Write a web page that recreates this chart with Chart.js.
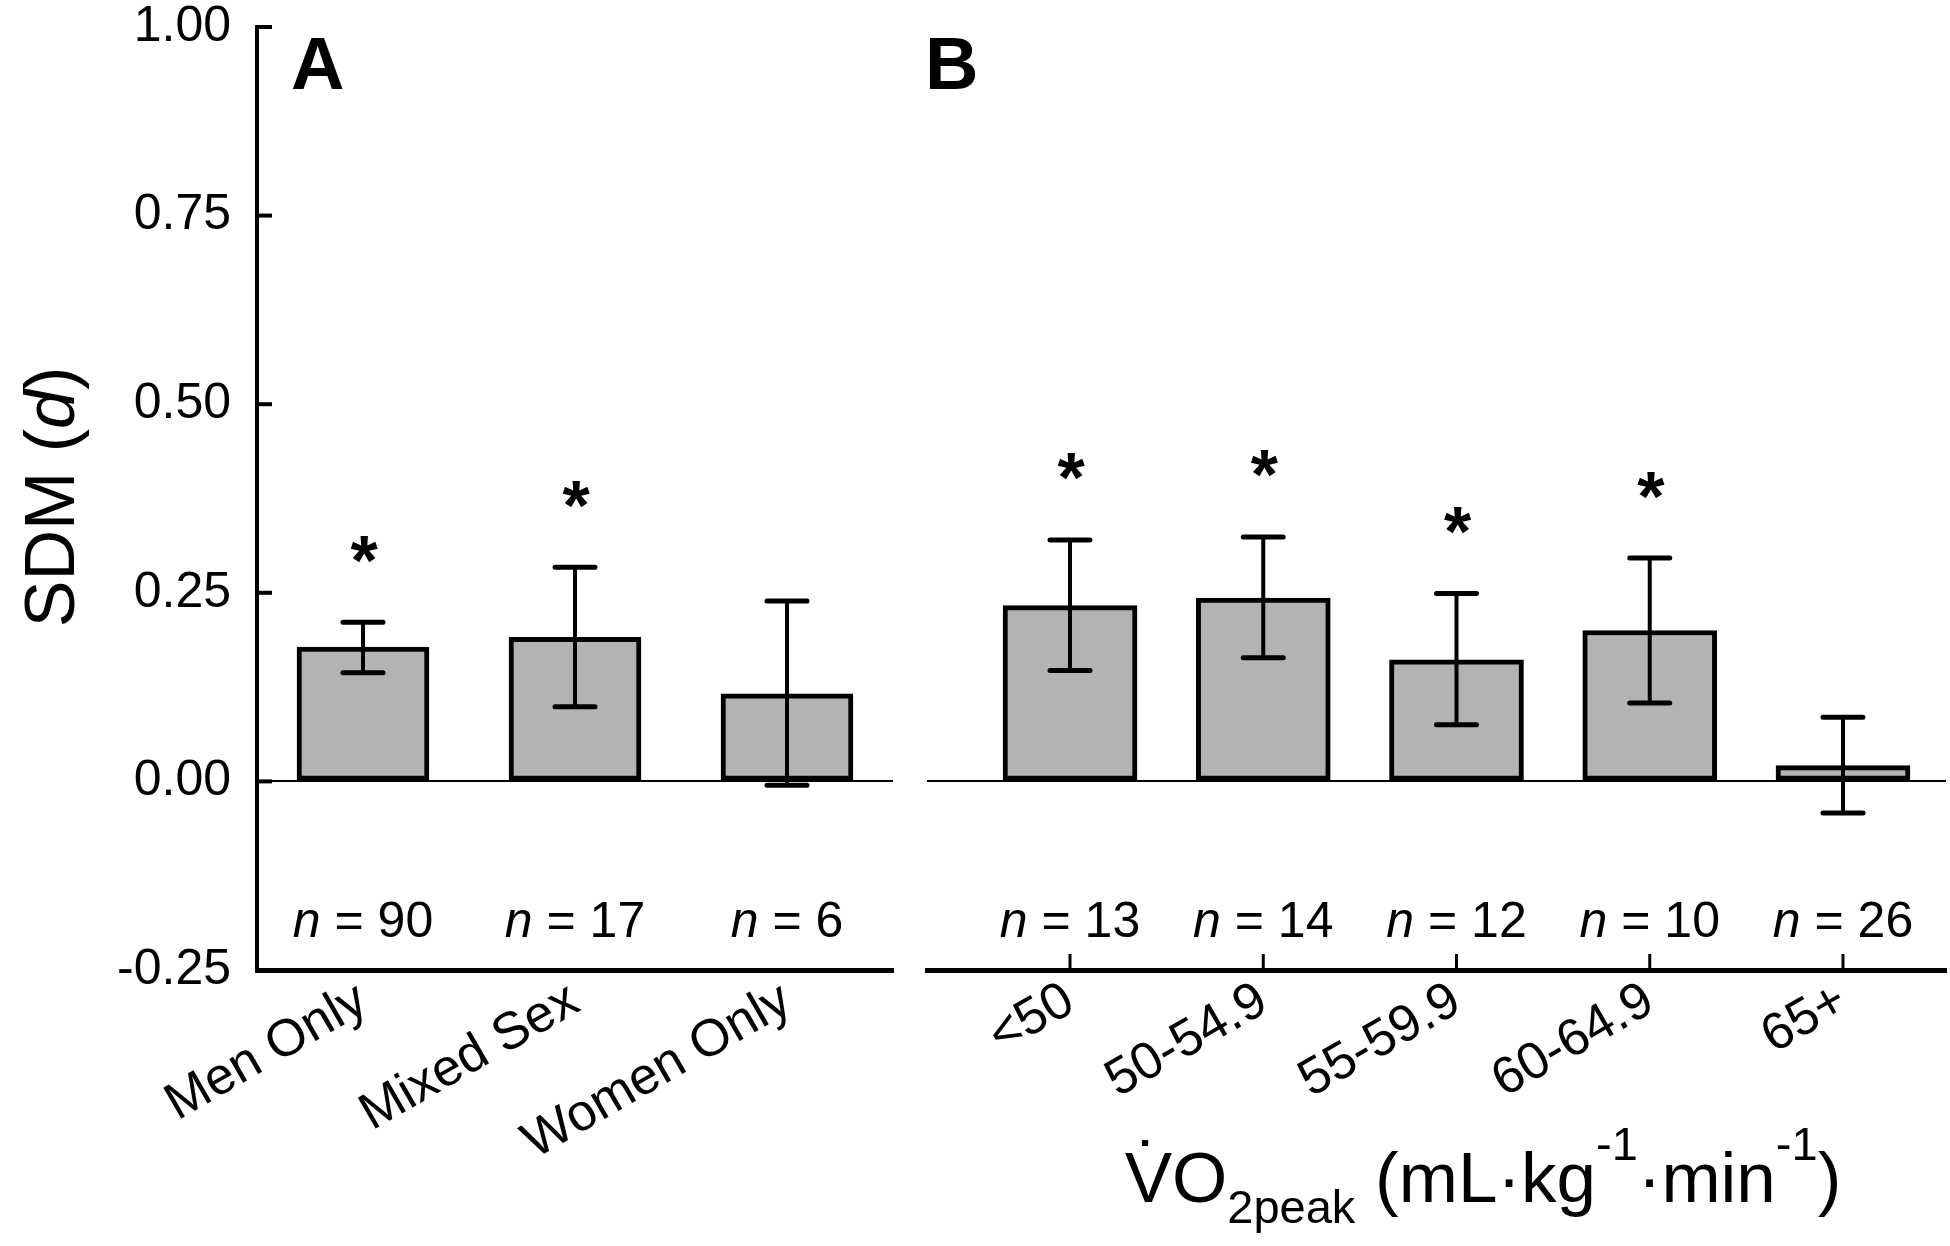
<!DOCTYPE html>
<html><head><meta charset="utf-8">
<script src="https://cdn.jsdelivr.net/npm/chart.js@4"></script>
<style>
html,body{margin:0;padding:0;background:#fff;}
#wrap{position:relative;width:1950px;height:1246px;overflow:hidden;}
#chartA{position:absolute;left:0;top:0;}
#chartB{position:absolute;left:900px;top:0;}
</style></head><body>
<div id="wrap">
<canvas id="chartA" width="910" height="1246"></canvas>
<canvas id="chartB" width="1050" height="1246"></canvas>
</div>
<script>
// ---------- data ----------
const yTicks = [-0.25, 0, 0.25, 0.5, 0.75, 1.0];

const catsA = ['Men Only', 'Mixed Sex', 'Women Only'];
const meanA = [0.178, 0.191, 0.116];
const lowA  = [0.144, 0.099, -0.005];
const highA = [0.211, 0.284, 0.239];
const nA    = [90, 17, 6];
const sigA  = [true, true, false];

const catsB = ['<50', '50-54.9', '55-59.9', '60-64.9', '65+'];
const meanB = [0.233, 0.243, 0.161, 0.200, 0.021];
const lowB  = [0.147, 0.164, 0.075, 0.104, -0.042];
const highB = [0.320, 0.324, 0.249, 0.296, 0.085];
const nB    = [13, 14, 12, 10, 26];
const sigB  = [true, true, true, true, false];

// ---------- styling ----------
const FONT = '"Liberation Sans", Arial, Helvetica, sans-serif';
Chart.defaults.font.family = FONT;
Chart.defaults.color = '#000';
const BAR_FILL = '#b3b3b3';

function overlay(low, high, n, sig) {
  return {
    id: 'overlay',
    afterDatasetsDraw(chart) {
      const ctx = chart.ctx, ys = chart.scales.y;
      const meta = chart.getDatasetMeta(0);
      const area = chart.chartArea;
      ctx.save();
      ctx.strokeStyle = '#000';
      ctx.fillStyle = '#000';
      meta.data.forEach((bar, i) => {
        const x = bar.x;
        const yl = ys.getPixelForValue(low[i]);
        const yh = ys.getPixelForValue(high[i]);
        ctx.lineCap = 'butt';
        ctx.lineWidth = 4;
        ctx.beginPath(); ctx.moveTo(x, yl); ctx.lineTo(x, yh); ctx.stroke();
        ctx.lineCap = 'round';
        ctx.lineWidth = 5;
        ctx.beginPath();
        ctx.moveTo(x - 20, yh); ctx.lineTo(x + 20, yh);
        ctx.moveTo(x - 20, yl); ctx.lineTo(x + 20, yl);
        ctx.stroke();
        if (sig[i]) {
          ctx.font = 'bold 70px ' + FONT;
          const m = ctx.measureText('*');
          const cy = yh - 73;
          const base = cy + (m.actualBoundingBoxAscent - m.actualBoundingBoxDescent) / 2;
          ctx.textAlign = 'center';
          ctx.textBaseline = 'alphabetic';
          ctx.fillText('*', x + 1, base);
        }
        // n label
        const fI = 'italic 50px ' + FONT, fN = '50px ' + FONT;
        const s1 = 'n', s2 = ' = ' + n[i];
        ctx.font = fI; const w1 = ctx.measureText(s1).width;
        ctx.font = fN; const w2 = ctx.measureText(s2).width;
        const x0 = x - (w1 + w2) / 2;
        const by = area.bottom - 33;
        ctx.textAlign = 'left';
        ctx.textBaseline = 'alphabetic';
        ctx.font = fI; ctx.fillText(s1, x0, by);
        ctx.font = fN; ctx.fillText(s2, x0 + w1, by);
      });
      ctx.restore();
    }
  };
}

function panelLabel(text, x) {
  return {
    id: 'panelLabel',
    afterDraw(chart) {
      const ctx = chart.ctx;
      ctx.save();
      ctx.font = 'bold 74px ' + FONT;
      ctx.fillStyle = '#000';
      ctx.textAlign = 'left';
      ctx.textBaseline = 'alphabetic';
      ctx.fillText(text, x, 89);
      ctx.restore();
    }
  };
}

const yAxisDecor = {
  id: 'yAxisDecor',
  afterDraw(chart) {
    const ctx = chart.ctx, ys = chart.scales.y, area = chart.chartArea;
    ctx.save();
    ctx.strokeStyle = '#000';
    ctx.lineWidth = 4;
    ys.ticks.forEach(t => {
      const y = ys.getPixelForValue(t.value);
      ctx.beginPath(); ctx.moveTo(area.left, y); ctx.lineTo(area.left + 15, y); ctx.stroke();
    });
    // y title
    ctx.translate(74, 497);
    ctx.rotate(-Math.PI / 2);
    const fN = '70px ' + FONT, fI = 'italic 70px ' + FONT;
    const parts = [['SDM (', fN], ['d', fI], [')', fN]];
    let total = 0;
    parts.forEach(p => { ctx.font = p[1]; p.push(ctx.measureText(p[0]).width); total += p[2]; });
    let cx = -total / 2;
    ctx.fillStyle = '#000';
    ctx.textAlign = 'left';
    ctx.textBaseline = 'alphabetic';
    parts.forEach(p => { ctx.font = p[1]; ctx.fillText(p[0], cx, 0); cx += p[2]; });
    ctx.restore();
  }
};

const xAxisDecorB = {
  id: 'xAxisDecorB',
  afterDraw(chart) {
    const ctx = chart.ctx, xs = chart.scales.x, area = chart.chartArea;
    ctx.save();
    ctx.strokeStyle = '#000';
    ctx.lineWidth = 3;
    xs.ticks.forEach(t => {
      const x = xs.getPixelForValue(t.value);
      ctx.beginPath(); ctx.moveTo(x, area.bottom); ctx.lineTo(x, area.bottom - 16); ctx.stroke();
    });
    // x title
    const main = '71px ' + FONT, small = '47px ' + FONT;
    const base = 1202;
    const parts = [
      ['V', main, 0], ['O', main, 0], ['2peak', small, 21], [' (mL\u00B7kg', main, 0],
      ['-1', small, -42], ['\u00B7min', main, 0], ['-1', small, -42], [')', main, 0]
    ];
    let total = 0;
    parts.forEach(p => { ctx.font = p[1]; p.push(ctx.measureText(p[0]).width); total += p[3]; });
    let cx = 583 - total / 2;
    ctx.fillStyle = '#000';
    ctx.textAlign = 'left';
    ctx.textBaseline = 'alphabetic';
    const vx = cx, vw = parts[0][3];
    parts.forEach(p => { ctx.font = p[1]; ctx.fillText(p[0], cx, base + p[2]); cx += p[3]; });
    // dot above V
    ctx.font = main;
    const mV = ctx.measureText('V');
    const dot = '\u02D9';
    const mD = ctx.measureText(dot);
    const targetBottom = base - mV.actualBoundingBoxAscent - 7;
    const db = targetBottom - mD.actualBoundingBoxDescent;
    ctx.textAlign = 'center';
    ctx.fillText(dot, vx + vw / 2, db);
    ctx.restore();
  }
};

const yScaleBase = {
  min: -0.25, max: 1.0,
  afterBuildTicks: s => { s.ticks = yTicks.map(v => ({ value: v })); }
};

// ---------- Panel A ----------
new Chart(document.getElementById('chartA'), {
  type: 'bar',
  data: {
    labels: catsA,
    datasets: [{
      data: meanA,
      backgroundColor: BAR_FILL,
      borderColor: '#000',
      borderWidth: 5,
      borderSkipped: false,
      barThickness: 132
    }]
  },
  options: {
    responsive: false,
    animation: false,
    devicePixelRatio: 1,
    layout: { padding: { left: 0, right: 17, top: 27, bottom: 0 } },
    plugins: { legend: { display: false }, tooltip: { enabled: false } },
    scales: {
      x: {
        type: 'category',
        offset: true,
        grid: { display: false, drawTicks: false },
        border: { display: true, width: 5, color: '#000' },
        ticks: { font: { size: 52 }, color: '#000', minRotation: 30, maxRotation: 30, padding: 0, autoSkip: false },
        afterFit: s => { s.height = 276; s.paddingLeft = 0; s.paddingRight = 0; }
      },
      y: Object.assign({}, yScaleBase, {
        ticks: { callback: v => Number(v).toFixed(2), font: { size: 50 }, color: '#000', padding: 26 },
        grid: {
          drawTicks: false,
          color: c => (c.tick && c.tick.value === 0) ? '#000' : 'rgba(0,0,0,0)',
          lineWidth: 2
        },
        border: { display: true, width: 4, color: '#000' },
        afterFit: s => { s.width = 257; s.paddingTop = 0; s.paddingBottom = 0; }
      })
    }
  },
  plugins: [overlay(lowA, highA, nA, sigA), yAxisDecor, panelLabel('A', 291)]
});

// ---------- Panel B ----------
new Chart(document.getElementById('chartB'), {
  type: 'bar',
  data: {
    datasets: [{
      data: meanB.map((v, i) => ({ x: i + 1, y: v })),
      backgroundColor: BAR_FILL,
      borderColor: '#000',
      borderWidth: 5,
      borderSkipped: false,
      barThickness: 134
    }]
  },
  options: {
    responsive: false,
    animation: false,
    devicePixelRatio: 1,
    layout: { padding: { left: 27, right: 4, top: 27, bottom: 0 } },
    plugins: { legend: { display: false }, tooltip: { enabled: false } },
    scales: {
      x: {
        type: 'linear',
        offset: false,
        min: 0.26, max: 5.533,
        afterBuildTicks: s => { s.ticks = catsB.map((c, i) => ({ value: i + 1 })); },
        grid: { display: false, drawTicks: false, offset: false },
        border: { display: true, width: 5, color: '#000' },
        ticks: { callback: (v, i) => catsB[i], font: { size: 52 }, color: '#000', minRotation: 30, maxRotation: 30, padding: 0, autoSkip: false },
        afterFit: s => { s.height = 276; s.paddingLeft = 0; s.paddingRight = 0; }
      },
      y: Object.assign({}, yScaleBase, {
        display: true,
        ticks: { display: false },
        grid: {
          drawTicks: false,
          color: c => (c.tick && c.tick.value === 0) ? '#000' : 'rgba(0,0,0,0)',
          lineWidth: 2
        },
        border: { display: false },
        afterFit: s => { s.width = 0; s.paddingTop = 0; s.paddingBottom = 0; }
      })
    }
  },
  plugins: [overlay(lowB, highB, nB, sigB), xAxisDecorB, panelLabel('B', 25)]
});
</script>
</body></html>
